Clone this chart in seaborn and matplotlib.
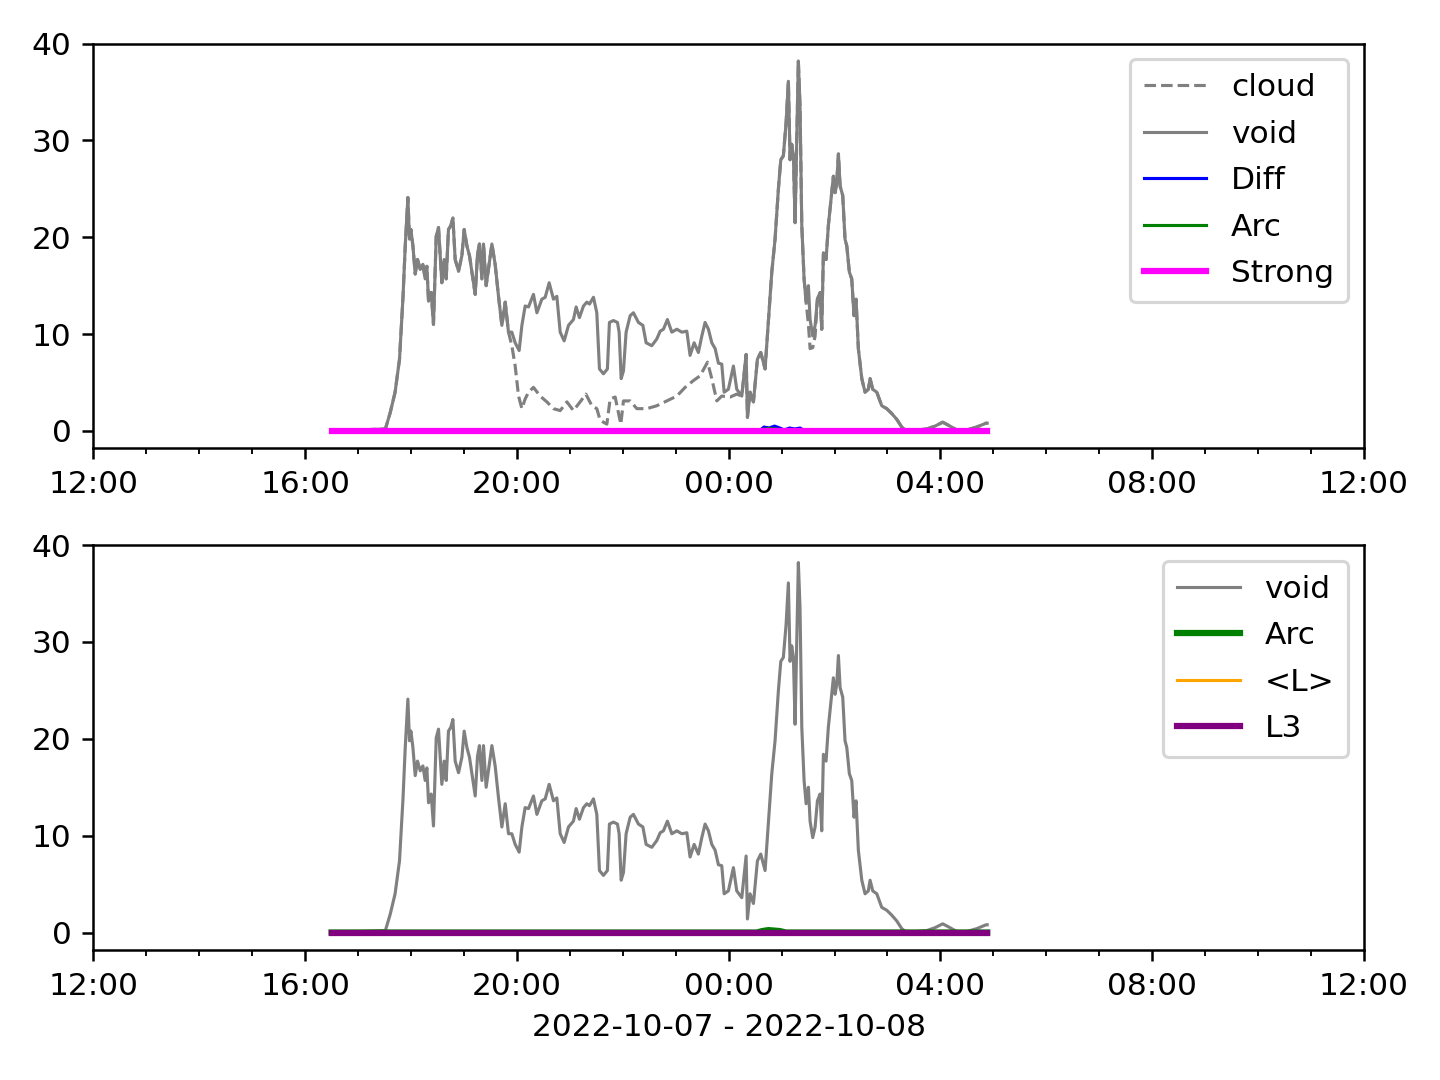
import pandas as pd
import matplotlib
matplotlib.use("Agg")
import matplotlib.pyplot as plt
import matplotlib.dates as mdates
import seaborn as sns

# tiempos en minutos desde 2022-10-07 12:00
void_min = [270, 331, 336.5, 342, 347, 351, 353.5, 356.5, 358.3, 359.9, 362.2, 364.8, 367.4, 370.5, 373.5,
            376.1, 378, 379.9, 382.9, 385.5, 388.6, 391.2, 395, 397.6, 399.9, 402.5, 405.2, 407.5, 410.1,
            413.9, 417.7, 420.3, 423.4, 426.3, 430.2, 432.8, 435.4, 437.6, 440.4, 442.2, 445.2, 447.8,
            451.7, 455.4, 459.2, 463, 466.8, 470.5, 474.3, 478.1, 482.6, 485.7, 489.4, 493.2, 498.8, 502.7,
            508.3, 512.1, 516.6, 521.5, 525.3, 529.1, 533.6, 538.5, 544.1, 547.2, 550.9, 555.5, 559.3,
            562.3, 566.8, 570.6, 573.6, 578.1, 582.6, 584.9, 589.4, 594, 595.9, 598.2, 600.8, 603.8, 608.4,
            612.1, 617.8, 622.8, 626.5, 632.9, 638.6, 642.4, 646.1, 650.6, 655.6, 661.3, 666.9, 672.6,
            676.3, 680.9, 685.7, 689.6, 693.3, 697.1, 700.9, 704.7, 708.4, 712.2, 714.9, 719.7, 725.4,
            729.2, 734.9, 739.8, 741.3, 744.3, 748.1, 752.6, 756.4, 761.3, 765, 768.9, 772.6, 776.4, 779.1,
            782, 785.1, 787.7, 789.6, 791.5, 793.4, 795.3, 797.2, 799, 800.9, 802.9, 805.5, 807.8, 810.4,
            812.3, 815.3, 818, 820.6, 823.6, 825.5, 827.4, 830.4, 833, 835.7, 838.7, 840.6, 842.5, 844.4,
            846.3, 849.3, 851.9, 853.9, 856.8, 859.5, 862.1, 864.4, 867, 870.9, 874.6, 878.3, 880.3, 883.3,
            887.9, 893.5, 899.2, 904.8, 910.5, 916.2, 921.8, 944.5, 953.9, 962.6, 970.9, 978.5, 989.8,
            1001.1, 1011.7, 1013]
void_val = [0, 0.2, 1.9, 4.0, 7.4, 13.9, 19.1, 24.1, 19.8, 20.8, 19.1, 16.2, 17.7, 16.7, 17.2,
            15.7, 17.0, 13.4, 14.3, 11.0, 20.1, 21.0, 15.3, 17.7, 15.7, 20.8, 21.2, 22.0, 17.7,
            16.5, 18.1, 20.8, 19.1, 18.1, 15.7, 14.1, 18.2, 19.3, 15.7, 19.3, 15.0, 16.7,
            19.3, 17.2, 13.9, 10.9, 13.3, 10.2, 10.2, 9.1, 8.3, 10.9, 12.9, 12.8, 14.1, 12.2,
            13.6, 13.8, 15.3, 13.6, 13.9, 10.2, 9.3, 10.9, 11.5, 12.8, 11.7, 12.9, 13.3,
            13.1, 13.8, 12.2, 6.4, 5.9, 6.4, 11.2, 11.4, 11.2, 10.2, 5.4, 6.2, 10.2, 11.9,
            12.2, 11.2, 10.9, 9.1, 8.8, 9.5, 10.3, 10.5, 11.5, 10.2, 10.5, 10.2, 10.3,
            7.8, 9.1, 8.1, 9.8, 11.2, 10.5, 9.1, 8.5, 7.0, 6.9, 4.0, 4.3, 6.7,
            4.3, 3.6, 7.9, 1.4, 4.0, 3.0, 7.4, 8.1, 6.4, 11.2, 16.4, 19.8, 25.0, 28.0,
            28.4, 31.8, 36.1, 28.0, 29.6, 28.4, 21.5, 30.1, 38.2, 33.5, 21.2, 15.7, 13.3, 15.0,
            11.5, 9.8, 10.9, 13.6, 14.3, 10.5, 18.4, 17.7, 21.2, 23.6, 26.3, 24.6, 25.6, 28.6,
            25.3, 24.3, 19.8, 19.1, 16.4, 15.7, 11.9, 13.6, 8.5, 5.4, 4.0, 4.3, 5.4, 4.3,
            4.0, 2.6, 2.3, 1.8, 1.2, 0.4, 0.0, 0.2, 0.5, 0.9, 0.5, 0.1, 0.1,
            0.4, 0.8, 0.8]

# tramos donde cloud se separa de void
cloud_min = [474.3, 478.1, 481.9, 485.7, 489.4, 493.2, 498.8, 506.4, 514.0, 521.5, 529.1, 536.7, 544.1,
             551.7, 558.2, 565.0, 570.6, 574.4, 582.0, 585.7, 591.4, 595.1, 597.8, 600.8, 608.4, 616.0,
             627.3, 638.6, 649.9, 661.3, 670.7, 680.1, 687.7, 696.1, 700.9, 706.6, 712.2, 721.7, 729.2,
             810.4, 812.3, 815.3, 818.0]
cloud_val = [8.8, 6.7, 3.6, 2.3, 3.3, 4.0, 4.5, 3.6, 3.0, 2.3, 2.1, 3.0, 2.1,
             3.0, 3.8, 2.6, 2.3, 1.1, 0.7, 3.3, 3.5, 1.9, 0.7, 3.1, 3.1, 2.3,
             2.3, 2.6, 3.1, 3.6, 4.5, 5.2, 5.7, 7.1, 5.4, 3.1, 3.6, 3.5, 3.8,
             11.0, 8.5, 8.6, 9.8]

diff_min = [270, 755, 760, 766, 772, 778, 783, 789, 795, 801, 806, 1013]
diff_val = [0, 0, 0.4, 0.3, 0.5, 0.3, 0.1, 0.3, 0.2, 0.3, 0, 0]
arc_min = [270, 752, 758, 765, 772, 778, 785, 1013]
arc_val = [0, 0, 0.15, 0.25, 0.2, 0.15, 0, 0]
flat_min = [270, 1013]
strong_val = [0, 0]
lmean_val = [0, 0]
l3_val = [0, 0]

t0 = pd.Timestamp("2022-10-07 12:00")


def a_tiempo(minutos):
    return t0 + pd.to_timedelta(minutos, unit="min")


void = pd.DataFrame({"t": a_tiempo(void_min), "v": void_val})
nube = pd.DataFrame({"t": a_tiempo(cloud_min), "v": cloud_val})
vm = pd.Series(void_min)
fuera = ~(((vm > 472) & (vm < 733)) | ((vm > 809) & (vm < 819)))
cloud = pd.concat([void[fuera.values], nube]).sort_values("t")

fig, axes = plt.subplots(2, 1, figsize=(6.4, 4.8), dpi=225)

ax = axes[0]
sns.lineplot(x=cloud["t"], y=cloud["v"], ax=ax, color="gray", lw=1, linestyle="--", label="cloud")
sns.lineplot(x=void["t"], y=void["v"], ax=ax, color="gray", lw=1, label="void")
sns.lineplot(x=a_tiempo(diff_min), y=diff_val, ax=ax, color="blue", lw=1, label="Diff")
sns.lineplot(x=a_tiempo(arc_min), y=arc_val, ax=ax, color="green", lw=1, label="Arc")
sns.lineplot(x=a_tiempo(flat_min), y=strong_val, ax=ax, color="magenta", lw=2, label="Strong")

ax = axes[1]
sns.lineplot(x=void["t"], y=void["v"], ax=ax, color="gray", lw=1, label="void")
sns.lineplot(x=a_tiempo(arc_min), y=arc_val, ax=ax, color="green", lw=2, label="Arc")
sns.lineplot(x=a_tiempo(flat_min), y=lmean_val, ax=ax, color="orange", lw=1, label="<L>")
sns.lineplot(x=a_tiempo(flat_min), y=l3_val, ax=ax, color="purple", lw=2, label="L3")

for ax in axes:
    ax.set_xlim(t0, t0 + pd.Timedelta(hours=24))
    ax.set_ylim(-1.8, 40.0)
    ax.set_yticks([0, 10, 20, 30, 40])
    ax.xaxis.set_major_locator(mdates.HourLocator(byhour=range(0, 24, 4)))
    ax.xaxis.set_minor_locator(mdates.HourLocator())
    ax.xaxis.set_major_formatter(mdates.DateFormatter("%H:%M"))
    ax.set_ylabel("")
    ax.set_xlabel("")
    ax.legend(loc="upper right", labelspacing=0.56, borderpad=0.45)

axes[1].set_xlabel("2022-10-07 - 2022-10-08")

# posiciones a mano para igualar la referencia
fig.subplots_adjust(left=0.0648, right=0.9472, top=0.9597, bottom=0.1204, hspace=0.239)
fig.savefig("out.png", dpi=225)
